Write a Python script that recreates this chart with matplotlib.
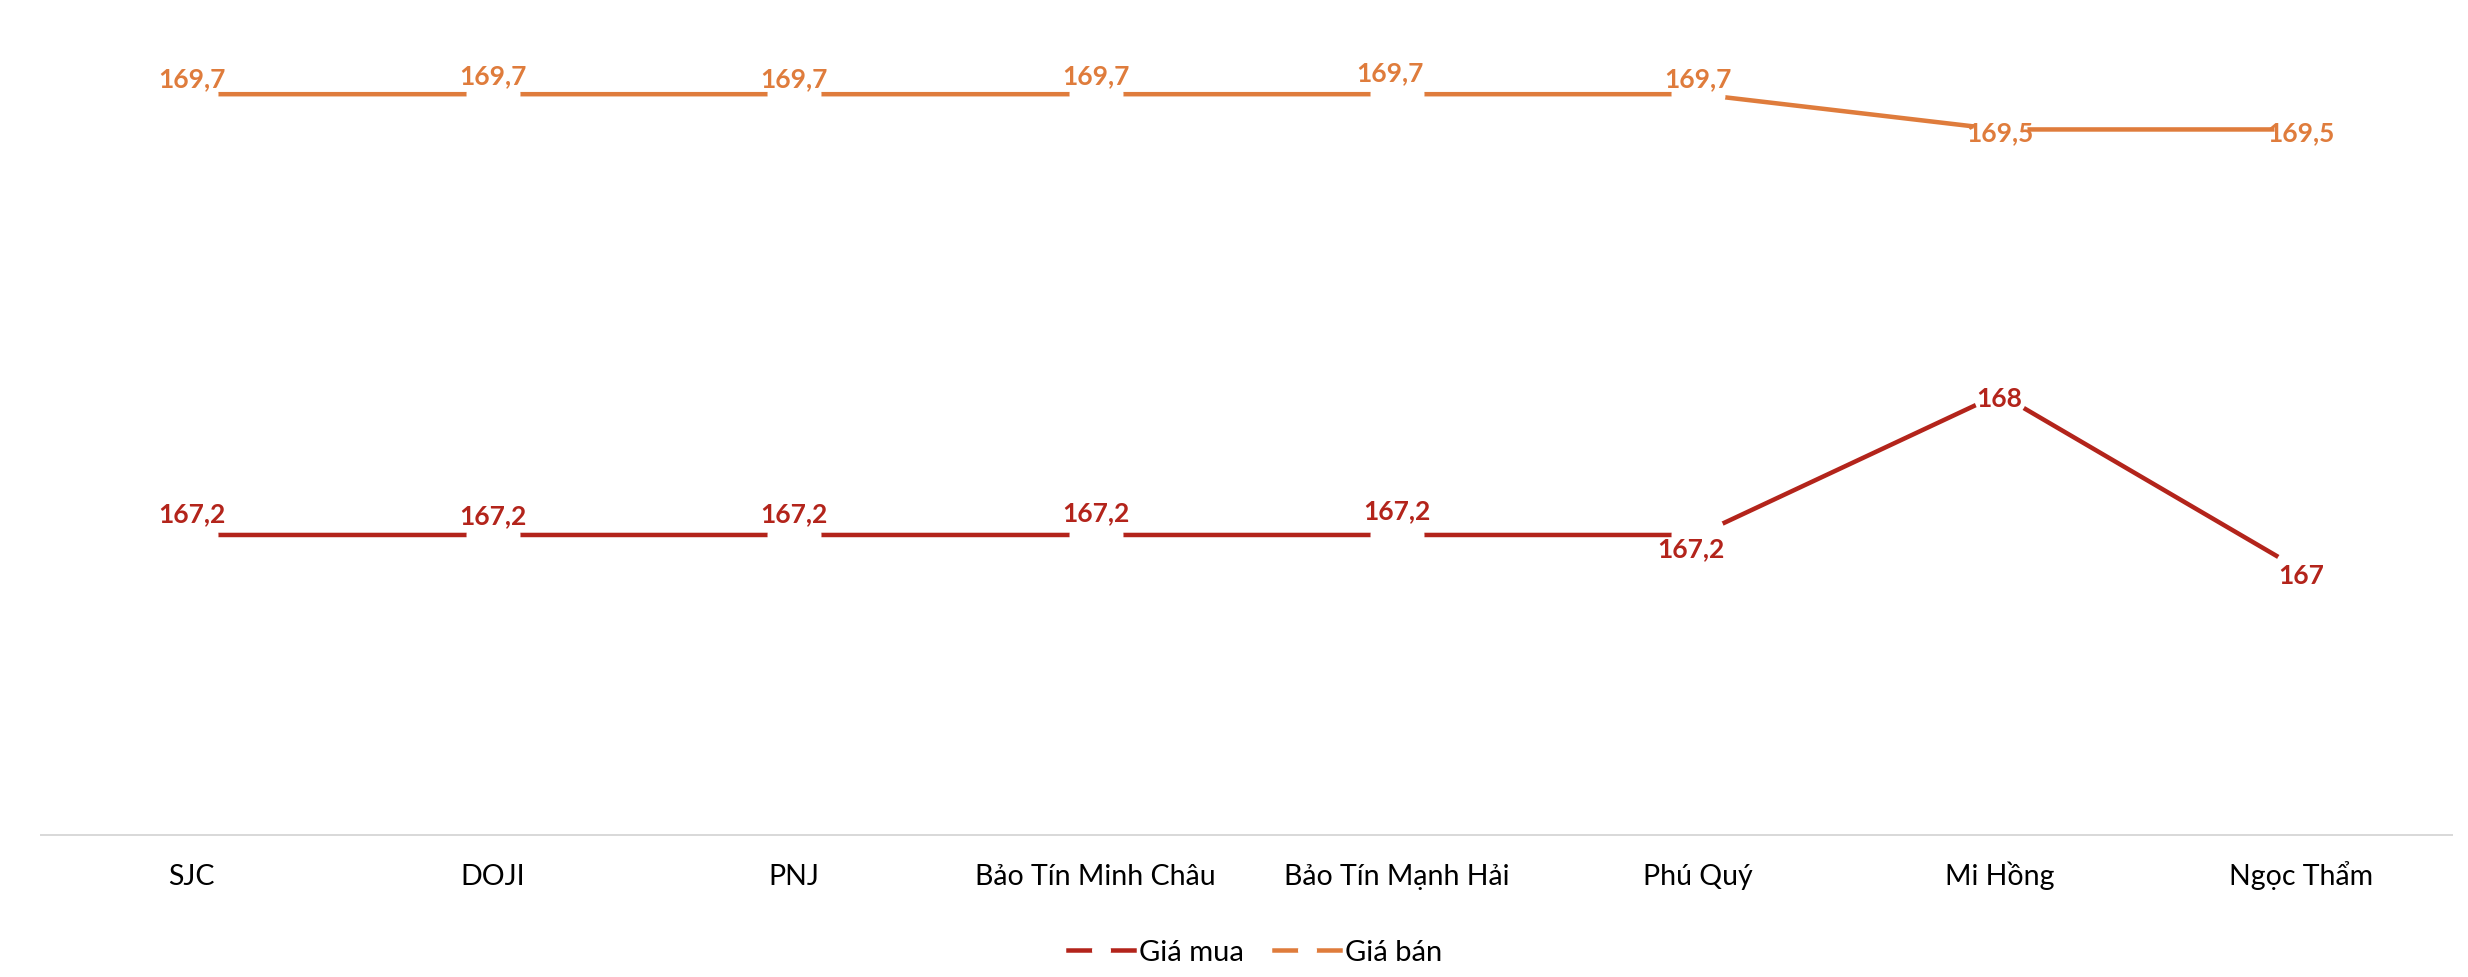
import matplotlib
matplotlib.use("Agg")
import matplotlib.pyplot as plt
from matplotlib.lines import Line2D

plt.rcParams['font.family'] = ['Lato', 'DejaVu Sans']

# ---- data ----
categories = ["SJC", "DOJI", "PNJ", "Bảo Tín Minh Châu", "Bảo Tín Mạnh Hải",
              "Phú Quý", "Mi Hồng", "Ngọc Thẩm"]
gia_mua = [167.2, 167.2, 167.2, 167.2, 167.2, 167.2, 168.0, 167.0]
gia_ban = [169.7, 169.7, 169.7, 169.7, 169.7, 169.7, 169.5, 169.5]
series_names = ["Giá mua", "Giá bán"]

# ---- styles ----
C_MUA = "#B3241B"
C_BAN = "#DF7C3C"
PX = 0.72  # points per pixel at dpi 100

# label offsets in pixels (dx right, dy down)
off_mua = [(0, -24), (0, -21.5), (0, -24), (0, -24.6), (0, -27), (-7, 10.8), (0, 2), (0, 3)]
off_ban = [(0, -18), (0, -21), (0, -18), (0, -21), (-7, -24.5), (0, -18), (0, 0.5), (0, 0.5)]

fig = plt.figure(figsize=(24.68, 9.78), dpi=100)
ax = fig.add_axes([40.8 / 2468, 1 - 835.7 / 978, 2410.9 / 2468, (835.7 - 42.3) / 978])

x = list(range(len(categories)))
lw = 4.5 * PX
ms = 54 * PX

for vals, col, offs in ((gia_mua, C_MUA, off_mua), (gia_ban, C_BAN, off_ban)):
    ax.plot(x, vals, color=col, lw=lw, marker='o', ms=ms, mfc='white',
            mec='none', mew=0, solid_capstyle='butt', zorder=2)
    for xi, v, (dx, dy) in zip(x, vals, offs):
        ax.annotate(f"{v:g}".replace('.', ','), xy=(xi, v),
                    xytext=(dx * PX, -dy * PX), textcoords='offset points',
                    ha='center', va='center_baseline', fontsize=19,
                    fontweight='bold', color=col, zorder=4, annotation_clip=False)

ax.set_xlim(-0.5, len(categories) - 0.5)
ax.set_ylim(165.5, 170.0)
ax.set_xticks(x)
ax.set_xticklabels(categories, fontsize=20.5, color='black')
ax.tick_params(axis='x', length=0, pad=49 * PX)
plt.setp(ax.get_xticklabels(), va='baseline')
ax.set_yticks([])
for s in ('top', 'right', 'left'):
    ax.spines[s].set_visible(False)
ax.spines['bottom'].set_color('#D9D9D9')
ax.spines['bottom'].set_linewidth(2 * PX)

handles = [Line2D([0], [0], color=C_MUA, lw=lw, marker='o', ms=19 * PX,
                  mfc='white', mec='none', mew=0),
           Line2D([0], [0], color=C_BAN, lw=lw, marker='o', ms=19 * PX,
                  mfc='white', mec='none', mew=0)]
fs_leg = 21
fpx = fs_leg / PX
fig.legend(handles, series_names, loc='center', ncol=2, frameon=False,
           fontsize=fs_leg, bbox_to_anchor=(1255 / 2468, 1 - 953 / 978),
           handlelength=66 / fpx, handletextpad=5 / fpx, columnspacing=30 / fpx,
           numpoints=1, borderpad=0, borderaxespad=0)

fig.savefig("out.png", dpi=100, facecolor='white')
